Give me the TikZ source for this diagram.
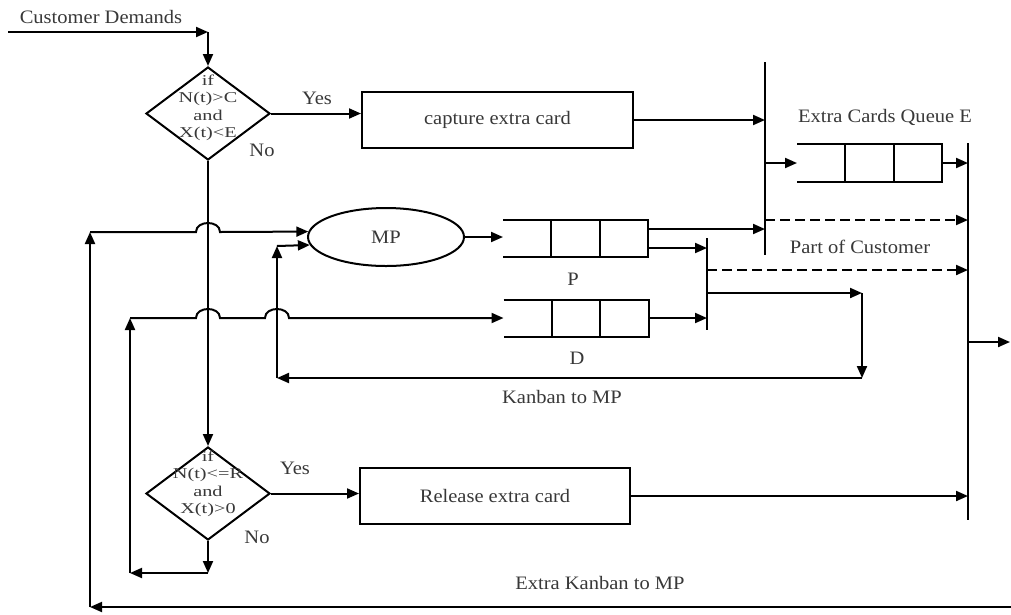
\documentclass[tikz,border=0pt]{standalone}
\usepackage{fontspec}
\setmainfont{Liberation Serif}[FakeStretch=1.08]
\newfontfamily\dfont{Liberation Serif}[FakeStretch=1.35]
\usetikzlibrary{arrows.meta,shapes.geometric,calc}
\newcommand\drawqueue[1]{%
  \draw (#1.north west) -- (#1.north east) -- (#1.south east) -- (#1.south west);
  \draw ($(#1.north west)!1/3!(#1.north east)$) -- ($(#1.south west)!1/3!(#1.south east)$);
  \draw ($(#1.north west)!2/3!(#1.north east)$) -- ($(#1.south west)!2/3!(#1.south east)$);}
\begin{document}
\begin{tikzpicture}[x=1pt,y=-1pt,
  line width=2pt,
  arr/.style={-{Triangle[length=12pt,width=10pt]}},
  lbl/.style={font=\fontsize{19}{22}\selectfont, inner sep=0pt, text=black!78},
  dtext/.style={font=\dfont\fontsize{15}{17.5}\selectfont, align=center, inner sep=0pt, text=black!78},
  decision/.style={diamond, draw, minimum width=124pt, minimum height=93pt, inner sep=0pt},
  procbox/.style={rectangle, draw, inner sep=0pt, font=\fontsize{19}{22}\selectfont, text=black!78},
  queuebox/.style={rectangle, draw=none, minimum width=145pt, minimum height=37pt, inner sep=0pt, outer sep=0pt},
  procell/.style={ellipse, draw, minimum width=156pt, minimum height=58pt, inner sep=0pt, font=\fontsize{19}{22}\selectfont, text=black!78},
  dashline/.style={dash pattern=on 10pt off 5pt}
]
\useasboundingbox (0,0) rectangle (1011,614);

% ---------- nodes ----------
\node[lbl] (cdlab) at (101,17) {Customer Demands};
\coordinate (cd0) at (8,32);
\coordinate (cd1) at (208,32);

\node[decision] (d1) at (208,113.5) {};
\node[dtext] (d1t) at (208,108) {if\\N(t)>C\\and\\X(t)<E};
\node[procbox, minimum width=271pt, minimum height=56pt] (cap) at (497.5,120) {capture extra card};
\node[lbl] (yes1) at (317,98) {Yes};
\node[lbl] (no1) at (262,150) {No};

\node[procell] (MP) at (386,237) {MP};
\node[queuebox] (qP) at (575.5,238.5) {};
\node[queuebox] (qD) at (576,318) {};
\node[queuebox, minimum height=38pt] (qE) at (869.5,163) {};
\node[lbl] (plab) at (573,279) {P};
\node[lbl] (dlab) at (577,358) {D};
\node[lbl] (elab) at (885,117) {Extra Cards Queue E};
\node[lbl] (pclab) at (860,247) {Part of Customer};
\node[lbl] (kblab) at (562,397) {Kanban to MP};

\node[decision] (d2) at (208,493.5) {};
\node[dtext] (d2t) at (208,484) {if\\N(t)<=R\\and\\X(t)>0};
\node[procbox, minimum width=270pt, minimum height=56pt] (rel) at (495,496) {Release extra card};
\node[lbl] (yes2) at (295,468) {Yes};
\node[lbl] (no2) at (257,537) {No};
\node[lbl] (eklab) at (600,583) {Extra Kanban to MP};

% ---------- queues ----------
\drawqueue{qP}
\drawqueue{qD}
\drawqueue{qE}

% ---------- bars ----------
\coordinate (b1t) at (765,62);  \coordinate (b1b) at (765,255);
\coordinate (b2t) at (968,143); \coordinate (b2b) at (968,520);
\coordinate (b3t) at (707,238); \coordinate (b3b) at (707,330);
\draw (b1t) -- (b1b);
\draw (b2t) -- (b2b);
\draw (b3t) -- (b3b);

% ---------- connectors ----------
\draw[arr] (cd0) -- (cd1);
\draw[arr] (cd1) -- (d1.north);
\draw[arr] (d1.east) -- (d1.east -| cap.west);
\draw[arr] (cap.east) -- (cap.east -| b1t);
\draw[arr] (d1.south) -- (d2.north);

\coordinate (e1) at (765,163);
\draw[arr] (e1) -- (qE.west);
\draw[arr] (qE.east) -- (qE.east -| b2t);
\coordinate (ds1) at (765,220);
\draw[arr,dashline] (ds1) -- (ds1 -| b2t);
\coordinate (ds2) at (707,270);
\draw[arr,dashline] (ds2) -- (ds2 -| b2t);

\draw[arr] (MP.east) -- (MP.east -| qP.west);
\coordinate (pa) at ([yshift=9.5pt]qP.east);
\coordinate (pb) at ([yshift=-9.5pt]qP.east);
\draw[arr] (pa) -- (pa -| b1t);
\draw[arr] (pb) -- (pb -| b3t);
\draw[arr] (qD.east) -- (qD.east -| b3t);

% Kanban to MP loop
\coordinate (k0) at (707,293);
\coordinate (k1) at (862,293);
\coordinate (k2) at (862,378);
\coordinate (k3) at (277,378);
\coordinate (k4) at (277,246);
\draw[arr] (k0) -- (k1);
\draw[arr] (k1) -- (k2);
\draw[arr] (k2) -- (k3);
\draw[arr] (k3) -- (k4);
\draw[arr] (k4) -- (MP.186.9);

% Release branch
\draw[arr] (d2.east) -- (d2.east -| rel.west);
\draw[arr] (rel.east) -- (rel.east -| b2t);
\coordinate (out1) at (968,342);
\coordinate (out2) at (1010,342);
\draw[arr] (out1) -- (out2);

% No branch of d2 -> D queue
\coordinate (m1) at (208,573);
\coordinate (m2) at (130,573);
\coordinate (m3) at (130,318);
\draw[arr] (d2.south) -- (m1);
\draw[arr] (m1) -- (m2);
\draw[arr] (m2) -- (m3);
\draw[arr] (m3) -- (196,318) .. controls (196,306) and (220,306) .. (220,318)
  -- (265,318) .. controls (265,306) and (289,306) .. (289,318) -- (qD.west);

% Extra Kanban to MP loop
\coordinate (x0) at (1011,607);
\coordinate (x1) at (90,607);
\coordinate (x2) at (90,232);
\draw[arr] (x0) -- (x1);
\draw[arr] (x1) -- (x2);
\draw[arr] (x2) -- (196,232) .. controls (196,220) and (220,220) .. (220,232) -- (MP.176.3);
\end{tikzpicture}
\end{document}
